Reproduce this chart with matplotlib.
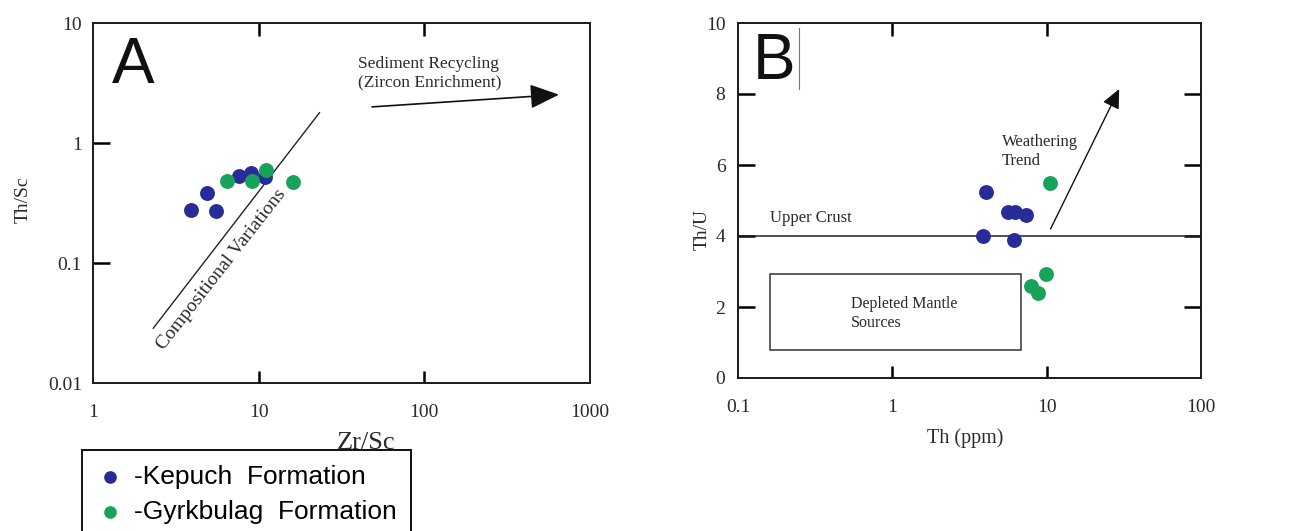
import matplotlib
matplotlib.use("Agg")
import matplotlib.pyplot as plt
from matplotlib.patches import Rectangle
from matplotlib.ticker import FixedLocator, NullLocator, FixedFormatter

# ── data ──
# A: Zr/Sc vs Th/Sc
kep_zrsc = [3.93, 4.91, 5.56, 7.65, 9.03, 10.97]
kep_thsc = [0.277, 0.381, 0.270, 0.53, 0.56, 0.519]
gyr_zrsc = [6.48, 9.16, 11.0, 16.1]
gyr_thsc = [0.478, 0.478, 0.59, 0.47]

# B: Th vs Th/U
kep_th = [4.04, 3.87, 5.6, 6.22, 7.33, 6.12]
kep_thu = [5.24, 4.0, 4.67, 4.68, 4.59, 3.89]
gyr_th = [10.45, 9.86, 7.89, 8.75]
gyr_thu = [5.49, 2.93, 2.60, 2.39]

upper_crust_thu = 4.0
mantle_box_th = [0.161, 6.8]
mantle_box_thu = [0.8, 2.92]

comp_line_x = [2.31, 23.3]
comp_line_y = [0.0286, 1.79]
recycling_x = [48.4, 650]
recycling_y = [2.0, 2.53]
weathering_x = [10.6, 29.5]
weathering_y = [4.2, 8.14]

A_xticks = [1, 10, 100, 1000]
A_yticks = [0.01, 0.1, 1, 10]
B_xticks = [0.1, 1, 10, 100]
B_yticks = [0, 2, 4, 6, 8, 10]

BLUE = "#282c98"
GREEN = "#17a45a"
SERIF = "Liberation Serif"
SANS = "Liberation Sans"
TXT = "#2a2a2a"


def hide_corner_ticks(axis, lo, hi):
    # tick marks only inside the frame, labels stay at the ends
    for t in axis.get_major_ticks():
        if t.get_loc() in (lo, hi):
            t.tick1line.set_visible(False)
            t.tick2line.set_visible(False)


fig = plt.figure(figsize=(12.89, 5.31), dpi=100)
W, H = 1289, 531

axA = fig.add_axes([93 / W, (H - 383) / H, 497 / W, 360 / H])
axB = fig.add_axes([738 / W, (H - 378) / H, 463 / W, 355 / H])

for ax in (axA, axB):
    for sp in ax.spines.values():
        sp.set_linewidth(1.4)
        sp.set_color("#1a1a1a")

# ── Panel A ──
axA.set_xscale("log")
axA.set_yscale("log")
axA.set_xlim(1, 1000)
axA.set_ylim(0.01, 10)
sA1 = axA.scatter(kep_zrsc, kep_thsc, s=115, color=BLUE, zorder=3, linewidths=0)
sA2 = axA.scatter(gyr_zrsc, gyr_thsc, s=115, color=GREEN, zorder=4, linewidths=0)

axA.plot(comp_line_x, comp_line_y, color="#222", lw=1.0)
axA.text(6.0, 0.088, "Compositional Variations", rotation=52, rotation_mode="anchor",
         ha="center", va="center", fontsize=14, family=SERIF, color=TXT)
axA.annotate("", xy=(recycling_x[1], recycling_y[1]), xytext=(recycling_x[0], recycling_y[0]),
             arrowprops=dict(arrowstyle="-|>,head_length=1.0,head_width=0.42",
                             mutation_scale=18, color="#111", lw=1.2, shrinkA=0, shrinkB=0))
axA.text(40, 3.8, "Sediment Recycling\n(Zircon Enrichment)", ha="left", va="center",
         fontsize=12.5, family=SERIF, color=TXT, linespacing=1.2)
axA.text(0.038, 0.833, "A", transform=axA.transAxes, fontsize=46, family=SANS,
         ha="left", va="baseline", color="#111")

axA.xaxis.set_major_locator(FixedLocator(A_xticks))
axA.xaxis.set_minor_locator(NullLocator())
axA.xaxis.set_major_formatter(FixedFormatter([str(t) for t in A_xticks]))
axA.yaxis.set_major_locator(FixedLocator(A_yticks))
axA.yaxis.set_minor_locator(NullLocator())
axA.yaxis.set_major_formatter(FixedFormatter([str(t) for t in A_yticks]))
axA.tick_params(axis="x", which="major", direction="in", top=True, bottom=True,
                length=9, width=1.8, pad=15, labelsize=14, labelcolor=TXT)
axA.tick_params(axis="y", which="major", direction="in", left=True, right=False,
                length=12, width=1.8, pad=8, labelsize=14, labelcolor=TXT)
for lab in axA.get_xticklabels() + axA.get_yticklabels():
    lab.set_family(SERIF)
hide_corner_ticks(axA.xaxis, 1, 1000)
hide_corner_ticks(axA.yaxis, 0.01, 10)

axA.set_xlabel("Zr/Sc", family=SERIF, fontsize=19, color=TXT)
axA.xaxis.set_label_coords(0.55, -0.168)
axA.xaxis.label.set_va("center")
axA.set_ylabel("Th/Sc", family=SERIF, fontsize=14, color=TXT)
axA.yaxis.set_label_coords(-0.141, 0.508)
axA.yaxis.label.set_va("center")

# ── Panel B ──
axB.set_xscale("log")
axB.set_xlim(0.1, 100)
axB.set_ylim(0, 10)
axB.scatter(kep_th, kep_thu, s=115, color=BLUE, zorder=3, linewidths=0)
axB.scatter(gyr_th, gyr_thu, s=115, color=GREEN, zorder=4, linewidths=0)

axB.axhline(upper_crust_thu, color="#222", lw=1.1)
axB.text(0.161, 4.5, "Upper Crust", ha="left", va="center", fontsize=12,
         family=SERIF, color=TXT)
axB.add_patch(Rectangle((mantle_box_th[0], mantle_box_thu[0]),
                        mantle_box_th[1] - mantle_box_th[0],
                        mantle_box_thu[1] - mantle_box_thu[0],
                        fill=False, ec="#333", lw=1.1))
axB.text(0.54, 1.83, "Depleted Mantle\nSources", ha="left", va="center", fontsize=11.5,
         family=SERIF, color=TXT, linespacing=1.25)
axB.annotate("", xy=(weathering_x[1], weathering_y[1]), xytext=(weathering_x[0], weathering_y[0]),
             arrowprops=dict(arrowstyle="-|>,head_length=0.65,head_width=0.3",
                             mutation_scale=18, color="#111", lw=1.0, shrinkA=0, shrinkB=0))
axB.text(5.1, 6.37, "Weathering\nTrend", ha="left", va="center", fontsize=12,
         family=SERIF, color=TXT, linespacing=1.25)
axB.text(0.032, 0.842, "B", transform=axB.transAxes, fontsize=46, family=SANS,
         ha="left", va="baseline", color="#111")
axB.plot([0.248, 0.248], [8.14, 9.86], color="#777", lw=0.8)

axB.xaxis.set_major_locator(FixedLocator(B_xticks))
axB.xaxis.set_minor_locator(NullLocator())
axB.xaxis.set_major_formatter(FixedFormatter([str(t) for t in B_xticks]))
axB.yaxis.set_major_locator(FixedLocator(B_yticks))
axB.tick_params(axis="x", direction="in", top=True, bottom=True, length=9, width=1.8,
                pad=15, labelsize=14, labelcolor=TXT)
axB.tick_params(axis="y", direction="in", left=True, right=True, length=12, width=1.8,
                pad=9, labelsize=14, labelcolor=TXT)
for lab in axB.get_xticklabels() + axB.get_yticklabels():
    lab.set_family(SERIF)
hide_corner_ticks(axB.xaxis, 0.1, 100)
hide_corner_ticks(axB.yaxis, 0, 10)

axB.set_xlabel("Th (ppm)", family=SERIF, fontsize=14.5, color=TXT)
axB.xaxis.set_label_coords(0.49, -0.169)
axB.xaxis.label.set_va("center")
axB.set_ylabel("Th/U", family=SERIF, fontsize=14, color=TXT)
axB.yaxis.set_label_coords(-0.078, 0.417)
axB.yaxis.label.set_va("center")

# ── legend ──
leg = fig.legend([sA1, sA2], ["-Kepuch  Formation", "-Gyrkbulag  Formation"],
                 loc="upper left", bbox_to_anchor=(82 / W, 1 - 450 / H),
                 frameon=True, fancybox=False, edgecolor="#111", framealpha=1,
                 prop={"family": SANS, "size": 19}, markerscale=0.85,
                 handlelength=1.0, handletextpad=0.4, borderpad=0.56,
                 labelspacing=0.42, borderaxespad=0)
leg.get_frame().set_linewidth(1.4)

fig.savefig("out.png", dpi=100)
